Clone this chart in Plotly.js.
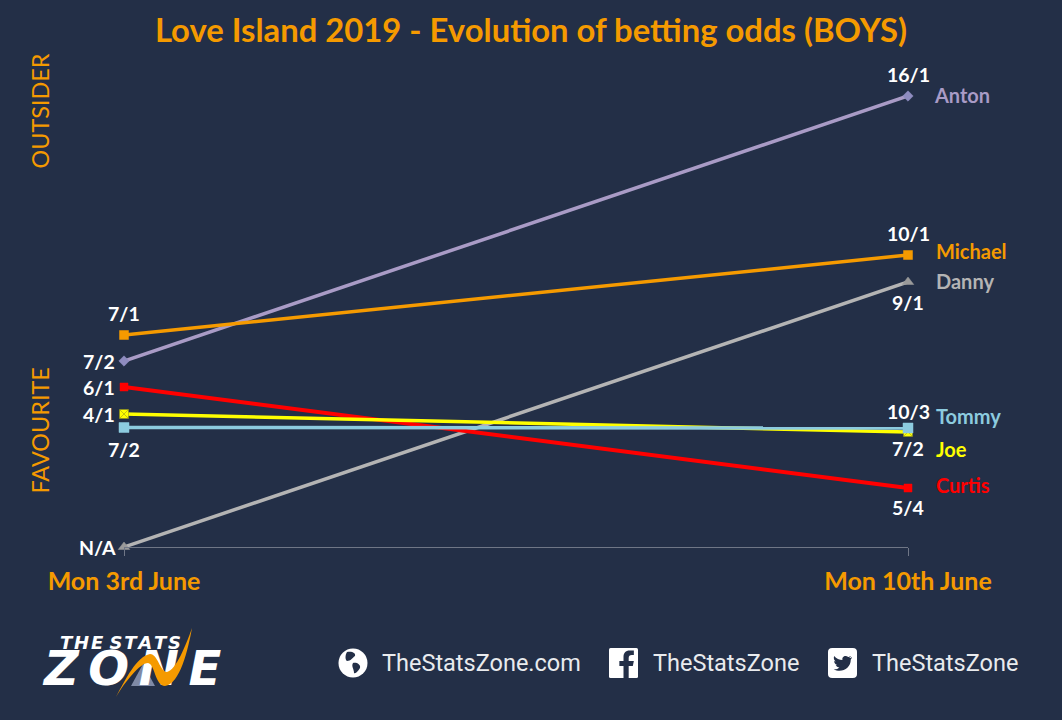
<!DOCTYPE html>
<html><head><meta charset="utf-8">
<script src="https://cdn.plot.ly/plotly-3.0.1.min.js"></script>
<style>html,body{margin:0;padding:0;background:#232f47;overflow:hidden}#c{width:1062px;height:720px}#sw{position:absolute;left:0;top:0;pointer-events:none}</style>
</head><body><div id="c"></div>
<svg id="sw" width="1062" height="720" viewBox="0 0 1062 720"><path d="M116 697 C125 680 137 656 150 654 C158 654 160 672 167 672 C176 670 186 645 192 628 C188 650 180 684 165 686 C155 686 155 664 148 663 C140 663 125 682 116 697Z" fill="#f59a00"/></svg>
<script>
// Evolution dates
const dates = ["Mon 3rd June", "Mon 10th June"];
// Position on the (unlabelled) vertical scale
const anton   = [37.2, 90.2];
const michael = [42.4, 58.4];
const danny   = [0, 53];
const curtis  = [32, 11.8];
const joe     = [26.6, 23];
const tommy   = [23.9, 23.8];
// Odds labels
const antonOdds   = ["7/2", "16/1"];
const michaelOdds = ["7/1", "10/1"];
const dannyOdds   = ["N/A", "9/1"];
const curtisOdds  = ["6/1", "5/4"];
const joeOdds     = ["4/1", "7/2"];
const tommyOdds   = ["7/2", "10/3"];

const FONT = "Lato, 'Open Sans', sans-serif";
const W = 1062, H = 720, L = 124, R = 908, T = 47, B = 547;
const px = x => (x - L) / (R - L), py = y => (B - y) / (B - T);

const series = [
  {name:"Anton",   y:anton,   odds:antonOdds,   color:"#a99bc6", sym:"diamond", size:8,  w:3.5, mk:"#8f8cc0",
   oddsPos:[[-25,0],[0,-22]], namePos:[24,-1]},
  {name:"Michael", y:michael, odds:michaelOdds, color:"#f59a00", sym:"square", size:9, w:3.5, mk:"#f59a00",
   oddsPos:[[0,-22],[0,-22]], namePos:[26,-4]},
  {name:"Danny",   y:danny,   odds:dannyOdds,   color:"#b4b4b4", sym:"triangle-up", size:10, w:3.5, mk:"#9a9a9a",
   oddsPos:[[-27,0],[0,20]], namePos:[26,-1]},
  {name:"Curtis",  y:curtis,  odds:curtisOdds,  color:"#ff0000", sym:"square", size:8, w:4, mk:"#ff0000",
   oddsPos:[[-25,0],[0,19]], namePos:[26,-3]},
  {name:"Joe",     y:joe,     odds:joeOdds,     color:"#ffff00", sym:"square-x", size:9, w:3.5, mk:"#ffff00",
   oddsPos:[[-25,0],[0,16]], namePos:[26,17]},
  {name:"Tommy",   y:tommy,   odds:tommyOdds,   color:"#8ccbdf", sym:"square", size:10, w:3.5, mk:"#8ccbdf",
   oddsPos:[[0,22],[0,-17]], namePos:[26,-12]}
];

const traces = series.map(s => ({
  type:"scatter", mode:"lines+markers", x:[0,1], y:s.y, name:s.name, cliponaxis:false,
  line:{color:s.color, width:s.w},
  marker:{symbol:s.sym, size:s.size, color:s.mk, line:{width:0.5,color:s.sym==="square-x"?"#8a8a20":s.mk}},
  hoverinfo:"name+text", text:s.odds
}));

const annotations = [];
const note = (o) => annotations.push(Object.assign({showarrow:false, xanchor:"center", yanchor:"middle"}, o));
const page = (text, x, y, size, color, extra, family) => note(Object.assign({text, xref:"paper", yref:"paper",
  x:px(x), y:py(y), font:{family:family||FONT, size, color}}, extra||{}));

series.forEach(s => {
  s.odds.forEach((o,i) => note({text:"<b>"+o+"</b>", x:i, y:s.y[i], xref:"x", yref:"y",
    xshift:s.oddsPos[i][0], yshift:-s.oddsPos[i][1], font:{family:FONT,size:19.5,color:"#ffffff"}}));
  note({text:"<b>"+s.name+"</b>", x:1, y:s.y[1], xref:"x", yref:"y", xanchor:"left",
    xshift:s.namePos[0], yshift:-s.namePos[1], font:{family:FONT,size:20,color:s.color}});
});

page("OUTSIDER", 39, 111.5, 23.4, "#f59a00", {textangle:-90});
page("FAVOURITE", 39, 430.5, 23.4, "#f59a00", {textangle:-90});

// footer
const LOGO = "'DejaVu Sans', sans-serif";
page("<b><i>T\u200AH\u200AE S\u200AT\u200AA\u200AT\u200AS</i></b>", 120, 642, 18, "#ffffff", {}, LOGO);
page("<b><i>Z\u200A\u200AO\u200A\u200AN\u200A\u200AE</i></b>", 131, 668, 48, "#ffffff", {}, LOGO);
const ROB = "Roboto, sans-serif";
page("TheStatsZone.com", 481, 663, 23.5, "#e9ebee", {}, ROB);
page("TheStatsZone", 726, 663, 23.5, "#e9ebee", {}, ROB);
page("TheStatsZone", 944.5, 663, 23.5, "#e9ebee", {}, ROB);

const svg = s => "data:image/svg+xml;utf8," + encodeURIComponent(s);
const globe = svg('<svg xmlns="http://www.w3.org/2000/svg" viewBox="0 0 30 30"><circle cx="15" cy="15" r="14.5" fill="#fff"/><path d="M9 4 C14 3 18 5 17 8 C14 10 13 13 9 13 C7 12 7 7 9 4Z M15 15 C18 14 23 16 22 20 C20 23 18 26 16 25 C16 21 13 18 15 15Z" fill="#232f47"/></svg>');
const fb = svg('<svg xmlns="http://www.w3.org/2000/svg" viewBox="0 0 28 30"><rect width="28" height="30" rx="1.5" fill="#fff"/><path d="M19 30 V18 H23 L24 13 H19 V10 C19 8 20 7 22 7 H24 V2.500 H20 C16 2.500 14 5 14 9 V13 H10 V18 H14 V30Z" fill="#232f47"/></svg>');
const tw = svg('<svg xmlns="http://www.w3.org/2000/svg" viewBox="0 0 28 30"><rect width="28" height="30" rx="4" fill="#fff"/><path d="M23 9 C22 10 21 10 20.500 10 C21 9.500 22 8.500 22 8 C21 8.500 20 9 19.500 9 C17 6.500 13 8.500 14 12 C11 12 8 10.500 6 8 C5 10 6 12.500 7.500 13.500 C7 13.500 6.500 13.300 6 13 C6 15 7 16.500 9 17 C8.500 17.200 8 17.200 7.500 17 C8 18.500 9.500 19.500 11 19.500 C9.500 21 7.500 21.500 5.500 21.300 C13 25.500 22 20.500 22 11.500 C22.500 11 23 10 23 9Z" fill="#232f47"/></svg>');
const hill = svg('<svg xmlns="http://www.w3.org/2000/svg" viewBox="0 0 26 22"><path d="M0 22 L13 0 L26 22Z" fill="#7f8aa6"/></svg>');
const img = (source,x0,y0,x1,y1) => ({source, xref:"paper", yref:"paper", x:px(x0), y:py(y0),
  sizex:(x1-x0)/(R-L), sizey:(y1-y0)/(B-T), xanchor:"left", yanchor:"top", sizing:"stretch", layer:"above"});

const layout = {
  width:W, height:H, paper_bgcolor:"#232f47", plot_bgcolor:"#232f47", showlegend:false,
  margin:{l:L, r:W-R, t:T, b:H-B, pad:0},
  title:{text:"<b>Love Island 2019 - Evolution of betting odds (BOYS)</b>", x:531/W, xanchor:"center", y:1-31/H, yanchor:"middle",
    font:{family:FONT,size:32.8,color:"#f59a00"}},
  xaxis:{type:"linear", range:[0,1], tickmode:"array", tickvals:[0,1], ticktext:dates.map(d=>"<b>"+d+"</b>"),
    showgrid:false, zeroline:false, showline:true, linecolor:"#6f7686", linewidth:1,
    ticks:"outside", ticklen:8, tickcolor:"#6f7686", tickwidth:1, ticklabelstandoff:4,
    tickfont:{family:FONT,size:25,color:"#f59a00"}, automargin:false},
  yaxis:{range:[0,100], visible:false, fixedrange:true},
  annotations,
  images:[img(hill,131,664,155,686), img(globe,338,648,368,678), img(fb,609,648,638,678), img(tw,828,648,857,678)]
};
Plotly.newPlot("c", traces, layout, {displayModeBar:false, staticPlot:true});
</script></body></html>
